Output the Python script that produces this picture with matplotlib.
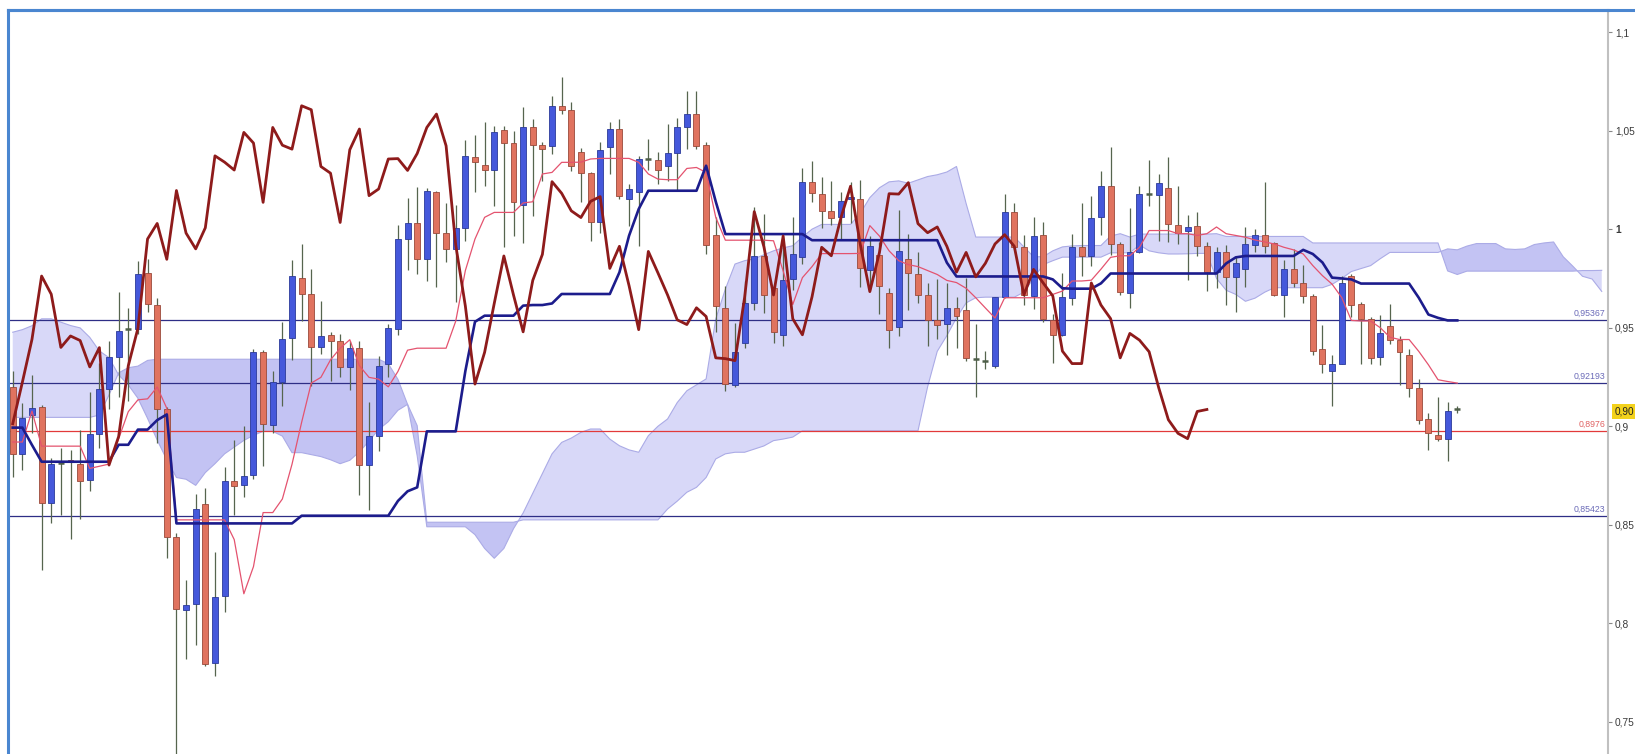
import numpy as np
import matplotlib
matplotlib.use("Agg")
import matplotlib.pyplot as plt
from matplotlib.lines import Line2D

# ---------------- data ----------------
opens = [0.920, 0.886, 0.9057, 0.910, 0.861, 0.881, 0.8828, 0.8808, 0.8727, 0.8961,
         0.9187, 0.935, 0.9488, 0.9492, 0.978, 0.9615, 0.9086, 0.844, 0.8068, 0.8098,
         0.8604, 0.7797, 0.8139, 0.8724, 0.8700, 0.8752, 0.9376, 0.9004, 0.9223, 0.9449,
         0.9754, 0.967, 0.940, 0.9464, 0.9431, 0.9301, 0.9399, 0.8803, 0.8948, 0.9317,
         0.9494, 0.995, 1.0029, 0.9847, 1.019, 0.9978, 0.990, 1.0007, 1.0365, 1.0325,
         1.030, 1.0503, 1.0437, 1.0122, 1.0516, 1.0426, 1.042, 1.0626, 1.0606, 1.0393,
         1.0284, 1.0034, 1.0415, 1.0508, 1.0153, 1.0187, 1.0356, 1.0352, 1.0318, 1.0384,
         1.0516, 1.0584, 1.0426, 0.997, 0.9598, 0.9211, 0.942, 0.9623, 0.9864, 0.970,
         0.9465, 0.9745, 0.9861, 1.0241, 1.0178, 1.0093, 1.0063, 1.0155, 1.0154, 0.9795,
         0.9868, 0.9675, 0.9506, 0.9847, 0.9773, 0.9666, 0.954, 0.952, 0.9601, 0.9588,
         0.9347, 0.9336, 0.9304, 0.9658, 1.0089, 0.9911, 0.9663, 0.9968, 0.9537, 0.9464,
         0.9649, 0.9908, 0.9865, 1.0063, 1.0218, 0.9925, 0.9678, 0.9882, 1.0172, 1.0172,
         1.021, 1.0023, 0.9989, 1.0015, 0.9913, 0.9782, 0.9882, 0.9758, 0.9796, 0.992,
         0.9968, 0.993, 0.9666, 0.9796, 0.9727, 0.9661, 0.939, 0.9281, 0.9318, 0.9761,
         0.962, 0.9546, 0.935, 0.9511, 0.9437, 0.9364, 0.9195, 0.9037, 0.8954, 0.8937,
         0.9085]
highs = [0.928, 0.912, 0.926, 0.911, 0.884, 0.889, 0.888, 0.898, 0.9175, 0.932,
         0.943, 0.968, 0.960, 0.984, 0.985, 0.965, 0.910, 0.846, 0.822, 0.8656,
         0.8685, 0.8364, 0.8795, 0.893, 0.900, 0.9392, 0.9386, 0.9278, 0.9529, 0.9843,
         0.9925, 0.9797, 0.9635, 0.9478, 0.947, 0.9431, 0.9431, 0.9121, 0.9356, 0.9517,
         1.0023, 1.0157, 1.0213, 1.021, 1.0196, 1.0131, 1.0121, 1.045, 1.048, 1.0545,
         1.0525, 1.0525, 1.0499, 1.0621, 1.0558, 1.0443, 1.0677, 1.077, 1.0643, 1.041,
         1.029, 1.0443, 1.0542, 1.0558, 1.0231, 1.0373, 1.0457, 1.0389, 1.0533, 1.0562,
         1.0702, 1.0702, 1.044, 1.006, 0.9711, 0.9525, 0.9737, 1.011, 1.0077, 0.972,
         0.9958, 1.006, 1.0311, 1.0348, 1.0263, 1.0246, 1.019, 1.024, 1.0247, 0.9965,
         0.9934, 0.970, 1.0097, 0.9973, 0.9882, 0.9727, 0.9749, 0.9727, 0.9657, 0.9752,
         0.952, 0.938, 0.9658, 1.018, 1.0132, 0.9968, 1.0063, 1.0034, 0.957, 0.9778,
         0.9977, 1.0132, 1.0166, 1.0296, 1.0417, 0.9934, 1.0106, 1.0218, 1.035, 1.028,
         1.0365, 1.0218, 1.0071, 1.0089, 0.9934, 0.9908, 0.992, 0.9865, 1.0011, 1.0003,
         1.0239, 0.9937, 0.9844, 0.990, 0.9816, 0.9672, 0.9516, 0.9364, 0.9761, 0.9775,
         0.9632, 0.9554, 0.9563, 0.962, 0.9459, 0.939, 0.924, 0.9068, 0.9149, 0.9123,
         0.9102]
lows = [0.874, 0.878, 0.8964, 0.827, 0.851, 0.855, 0.843, 0.853, 0.8673, 0.8888,
        0.909, 0.915, 0.913, 0.947, 0.958, 0.8917, 0.833, 0.720, 0.782, 0.789,
        0.7783, 0.7733, 0.806, 0.855, 0.864, 0.873, 0.8797, 0.8964, 0.9101, 0.9337,
        0.9533, 0.9203, 0.9366, 0.9229, 0.9248, 0.9184, 0.865, 0.8576, 0.8876, 0.9248,
        0.9464, 0.9792, 0.9772, 0.9739, 0.9705, 0.9831, 0.9631, 0.9941, 1.019, 1.022,
        1.0119, 0.9907, 0.9967, 0.993, 1.0067, 1.0246, 1.0381, 1.0584, 1.0296, 1.0139,
        0.9941, 0.9983, 1.0279, 1.0153, 1.0017, 0.9916, 1.0302, 1.0228, 1.0245, 1.0198,
        1.0406, 1.0406, 0.9874, 0.948, 0.9177, 0.9197, 0.9398, 0.959, 0.9576, 0.942,
        0.9406, 0.9689, 0.9822, 1.0136, 1.0005, 1.0022, 0.995, 1.003, 0.9709, 0.9692,
        0.9571, 0.9399, 0.9459, 0.9588, 0.9623, 0.9407, 0.9442, 0.9364, 0.9399, 0.933,
        0.915, 0.929, 0.9295, 0.9649, 0.9899, 0.9614, 0.9597, 0.9528, 0.9321, 0.946,
        0.9614, 0.9761, 0.9813, 0.9968, 0.987, 0.9666, 0.9602, 0.988, 1.0115, 0.9942,
        0.9934, 0.9925, 0.9744, 0.9865, 0.9684, 0.9701, 0.9615, 0.958, 0.9709, 0.9882,
        0.988, 0.9661, 0.9554, 0.9709, 0.9627, 0.9364, 0.927, 0.9105, 0.9318, 0.9554,
        0.9316, 0.9316, 0.9313, 0.9416, 0.9209, 0.9149, 0.9011, 0.8878, 0.8925, 0.8826,
        0.9068]
closes = [0.886, 0.904, 0.9094, 0.861, 0.881, 0.8815, 0.8818, 0.8724, 0.8961, 0.9187,
          0.935, 0.9483, 0.9492, 0.9775, 0.962, 0.9086, 0.844, 0.8073, 0.8094, 0.8578,
          0.7794, 0.8135, 0.8724, 0.8697, 0.8748, 0.9376, 0.9013, 0.9223, 0.9441, 0.9762,
          0.967, 0.940, 0.9458, 0.9435, 0.9301, 0.9399, 0.8803, 0.8948, 0.9307, 0.9497,
          0.995, 1.0029, 0.9847, 1.0196, 0.998, 0.990, 1.0007, 1.0372, 1.034, 1.030,
          1.0491, 1.0437, 1.0136, 1.0516, 1.0426, 1.0406, 1.0626, 1.0606, 1.0318, 1.0284,
          1.0034, 1.0403, 1.0508, 1.017, 1.0204, 1.0356, 1.0358, 1.0298, 1.0384, 1.0516,
          1.0584, 1.0423, 0.992, 0.961, 0.9214, 0.9375, 0.9623, 0.9864, 0.9666, 0.9479,
          0.974, 0.9872, 1.0241, 1.0182, 1.0093, 1.0059, 1.0141, 1.0165, 0.9801, 0.9913,
          0.9713, 0.949, 0.9887, 0.9778, 0.9666, 0.954, 0.9516, 0.9601, 0.9557, 0.9347,
          0.9343, 0.9333, 0.9654, 1.0089, 0.9911, 0.9666, 0.9965, 0.9545, 0.9464, 0.9657,
          0.9908, 0.9865, 1.0058, 1.0218, 0.9925, 0.9683, 0.9882, 1.018, 1.0178, 1.0236,
          1.0028, 0.9982, 1.0011, 0.9913, 0.9782, 0.9882, 0.9758, 0.9827, 0.9925, 0.9972,
          0.9913, 0.9666, 0.9796, 0.9727, 0.9661, 0.9381, 0.9318, 0.9318, 0.9727, 0.9615,
          0.9546, 0.9347, 0.9471, 0.9437, 0.9378, 0.9195, 0.9033, 0.8964, 0.8937, 0.9075,
          0.9085]

tenkan = [0.892, 0.892, 0.9077, 0.8899, 0.8899, 0.8899, 0.8899, 0.8899, 0.8786, 0.8797,
          0.8808, 0.8937, 0.9074, 0.9134, 0.9139, 0.9199, 0.9091, 0.8525, 0.8525, 0.8525,
          0.8525, 0.8525, 0.8525, 0.8425, 0.815, 0.8288, 0.8562, 0.8562, 0.8631, 0.8807,
          0.902, 0.9219, 0.9248, 0.9337, 0.9396, 0.9439, 0.9307, 0.9248, 0.9239, 0.920,
          0.9278, 0.9386, 0.9396, 0.9396, 0.9396, 0.9396, 0.9533, 0.979, 0.995, 1.006,
          1.0085, 1.0085, 1.0085, 1.0133, 1.0139, 1.028, 1.0288, 1.0339, 1.0339, 1.034,
          1.0356, 1.0359, 1.0359, 1.0359, 1.0359, 1.0339, 1.028, 1.0254, 1.0251, 1.0251,
          1.0308, 1.0313, 1.0288, 1.006, 0.9944, 0.9944, 0.9944, 0.9944, 0.9944, 0.9941,
          0.9788, 0.9618, 0.9754, 0.981, 0.9876, 0.9876, 0.9876, 0.9876, 0.9877, 1.0018,
          0.9965, 0.989, 0.984, 0.982, 0.981, 0.979, 0.977, 0.974, 0.9729, 0.970,
          0.9652, 0.960, 0.9549, 0.9652, 0.9652, 0.9652, 0.9652, 0.9652, 0.9669, 0.9686,
          0.9737, 0.9737, 0.9741, 0.9797, 0.9857, 0.9865, 0.9865, 0.9908, 0.9993, 0.9993,
          0.9993, 0.9977, 0.9977, 0.9968, 0.9977, 1.0011, 0.9977, 0.9968, 0.9959, 0.9945,
          0.9935, 0.9925, 0.9908, 0.9895, 0.9874, 0.9815, 0.9764, 0.9721, 0.9653, 0.9537,
          0.9534, 0.9534, 0.950, 0.9452, 0.944, 0.944, 0.938, 0.9312, 0.9236, 0.9227,
          0.9219]

kijun = [0.8993, 0.8993, 0.8905, 0.882, 0.882, 0.882, 0.882, 0.882, 0.882, 0.882,
         0.882, 0.8906, 0.8906, 0.8983, 0.8983, 0.9031, 0.906, 0.8507, 0.8507, 0.8507,
         0.8507, 0.8507, 0.8507, 0.8507, 0.8507, 0.8507, 0.8507, 0.8507, 0.8507, 0.8507,
         0.8546, 0.8546, 0.8546, 0.8546, 0.8546, 0.8546, 0.8546, 0.8546, 0.8546, 0.8546,
         0.8621, 0.867, 0.869, 0.8974, 0.8974, 0.8974, 0.8974, 0.928, 0.953, 0.9561,
         0.9561, 0.9561, 0.9561, 0.9612, 0.9615, 0.9615, 0.9623, 0.9671, 0.9671, 0.9671,
         0.9671, 0.9671, 0.9671, 0.9781, 0.9967, 1.0102, 1.0195, 1.0195, 1.0195, 1.0195,
         1.0195, 1.0195, 1.0322, 1.014, 0.9975, 0.9975, 0.9975, 0.9975, 0.9975, 0.9975,
         0.9975, 0.9975, 0.9975, 0.9944, 0.9944, 0.9944, 0.9944, 0.9944, 0.9944, 0.9944,
         0.9944, 0.9944, 0.9944, 0.9944, 0.9944, 0.9944, 0.9944, 0.983, 0.976, 0.976,
         0.976, 0.976, 0.976, 0.976, 0.976, 0.976, 0.976, 0.976, 0.9745, 0.970,
         0.9698, 0.9698, 0.9698, 0.9725, 0.9775, 0.9775, 0.9775, 0.9775, 0.9775, 0.9775,
         0.9775, 0.9775, 0.9775, 0.9775, 0.9775, 0.9775, 0.9826, 0.9857, 0.9864, 0.9864,
         0.9864, 0.9864, 0.9864, 0.9864, 0.9895, 0.9874, 0.9831, 0.9754, 0.975, 0.9745,
         0.9724, 0.9724, 0.9724, 0.9724, 0.9724, 0.9724, 0.9652, 0.9567, 0.955, 0.9537,
         0.9537]

span_a = [0.9477, 0.949, 0.951, 0.9545, 0.9545, 0.9528, 0.9511, 0.9499, 0.9451, 0.9382,
          0.9348, 0.926, 0.921, 0.9142, 0.904, 0.893, 0.883, 0.874, 0.8731, 0.870,
          0.8765, 0.881, 0.886, 0.8894, 0.8928, 0.8954, 0.8974, 0.8974, 0.895, 0.8866,
          0.8866, 0.8856, 0.8846, 0.883, 0.881, 0.8827, 0.887, 0.8925, 0.8984, 0.9023,
          0.9081, 0.9111, 0.885, 0.849, 0.849, 0.849, 0.849, 0.849, 0.845, 0.838,
          0.833, 0.838, 0.848, 0.856, 0.866, 0.876, 0.886, 0.8918, 0.894, 0.8969,
          0.8986, 0.8986, 0.8935, 0.8901, 0.888, 0.8868, 0.8952, 0.900, 0.9037, 0.912,
          0.918, 0.921, 0.924, 0.9544, 0.9696, 0.9823, 0.984, 0.985, 0.987, 0.989,
          0.9905, 0.9916, 0.996, 1.000, 1.0024, 1.0024, 1.0024, 1.0024, 1.008, 1.016,
          1.021, 1.024, 1.0245, 1.0233, 1.025, 1.0267, 1.0276, 1.029, 1.0318, 1.013,
          0.996, 0.996, 0.996, 0.996, 0.996, 0.991, 0.986, 0.986, 0.989, 0.991,
          0.9915, 0.9917, 0.9917, 0.9917, 0.9965, 0.9977, 0.996, 0.9975, 0.9975, 0.9975,
          0.9975, 0.9975, 0.9975, 0.9975, 0.9975, 0.9977, 0.9963, 0.9963, 0.9963, 0.9963,
          0.9963, 0.9963, 0.9963, 0.9963, 0.9963, 0.993, 0.993, 0.993, 0.993, 0.993,
          0.993, 0.993, 0.993, 0.993, 0.993, 0.993, 0.993, 0.993, 0.993, 0.9788,
          0.977, 0.9787, 0.9787, 0.9787, 0.9787, 0.9787, 0.9787, 0.9787, 0.9787, 0.9787,
          0.9787, 0.9787, 0.9787, 0.979, 0.979, 0.9791]

span_b = [0.9045, 0.9045, 0.9045, 0.9045, 0.9045, 0.9045, 0.9045, 0.9045, 0.9045, 0.9057,
          0.9159, 0.9271, 0.9297, 0.9305, 0.9334, 0.934, 0.934, 0.934, 0.934, 0.934,
          0.934, 0.934, 0.934, 0.934, 0.934, 0.934, 0.934, 0.934, 0.934, 0.934,
          0.934, 0.934, 0.934, 0.934, 0.934, 0.934, 0.934, 0.934, 0.934, 0.9317,
          0.9238, 0.9111, 0.9003, 0.8513, 0.8513, 0.8513, 0.8513, 0.8513, 0.8513, 0.8513,
          0.8513, 0.8513, 0.8513, 0.8525, 0.8525, 0.8525, 0.8525, 0.8525, 0.8525, 0.8525,
          0.8525, 0.8525, 0.8525, 0.8525, 0.8525, 0.8525, 0.8525, 0.8525, 0.858, 0.862,
          0.8665, 0.869, 0.874, 0.8834, 0.886, 0.8868, 0.8868, 0.8884, 0.890, 0.8927,
          0.8935, 0.8945, 0.8977, 0.8977, 0.8977, 0.8977, 0.8977, 0.8977, 0.8977, 0.8977,
          0.8977, 0.8977, 0.8977, 0.8977, 0.8977, 0.920, 0.938, 0.946, 0.955, 0.9626,
          0.9652, 0.9655, 0.9655, 0.9655, 0.9655, 0.968, 0.975, 0.982, 0.984, 0.9858,
          0.9858, 0.9858, 0.9858, 0.9858, 0.988, 0.988, 0.988, 0.992, 0.989, 0.988,
          0.9874, 0.9874, 0.9875, 0.9877, 0.9877, 0.975, 0.969, 0.9669, 0.9634, 0.965,
          0.968, 0.9703, 0.9703, 0.9703, 0.9703, 0.9703, 0.9703, 0.972, 0.975, 0.9785,
          0.980, 0.9815, 0.985, 0.9882, 0.9882, 0.9882, 0.9882, 0.9882, 0.9882, 0.990,
          0.9895, 0.9914, 0.9927, 0.9927, 0.9927, 0.990, 0.9897, 0.990, 0.9922, 0.993,
          0.9935, 0.986, 0.9812, 0.9761, 0.9747, 0.9684]

chikou_shift = 26
level_values = [0.95367, 0.92193, 0.8976, 0.85423]
level_labels = ["0,95367", "0,92193", "0,8976", "0,85423"]
last_price = 0.9077
last_price_label = "0,90"
y_ticks = [0.75, 0.8, 0.85, 0.9, 0.95, 1.0, 1.05, 1.1]
y_tick_labels = ["0,75", "0,8", "0,85", "0,9", "0,95", "1", "1,05", "1,1"]

assert len(opens) == len(highs) == len(lows) == len(closes) == len(tenkan) == len(kijun) == 151
assert len(span_a) == len(span_b) == 166

# ---------------- drawing ----------------
plt.rcParams['font.family'] = ['Liberation Sans', 'DejaVu Sans']
W, H = 1635, 754
fig = plt.figure(figsize=(W / 100, H / 100), dpi=100)
fig.patch.set_facecolor('white')
ax = fig.add_axes([8 / W, 0.0, 1600 / W, 744 / H])

o = np.array(opens); h = np.array(highs); l = np.array(lows); c = np.array(closes)
x = np.arange(len(o))
xc = np.arange(len(span_a))
a = np.array(span_a); b = np.array(span_b)

# cloud
ax.fill_between(xc, a, b, where=a >= b, interpolate=True, color='#d8d8f8', lw=0, zorder=1)
ax.fill_between(xc, a, b, where=a < b, interpolate=True, color='#c3c3f3', lw=0, zorder=1)
ax.plot(xc, a, color='#ababe6', lw=0.8, zorder=1.5)
ax.plot(xc, b, color='#ababe6', lw=0.8, zorder=1.5)

# horizontal levels
lvl_colors = ['#2e2e86', '#2e2e86', '#e23a3a', '#2e2e86']
txt_colors = ['#6b6bb8', '#6b6bb8', '#e06262', '#6b6bb8']
for v, lab, lc, tc in zip(level_values, level_labels, lvl_colors, txt_colors):
    ax.axhline(v, color=lc, lw=0.9, zorder=2)
    ax.text(0.9985, v + 0.0012, lab, transform=ax.get_yaxis_transform(),
            ha='right', va='bottom', fontsize=6.3, color=tc, zorder=6)

# candles
up = c >= o
ax.vlines(x, l, h, color='#56654e', lw=0.9, zorder=3)
body_lo = np.minimum(o, c)
body_h = np.abs(c - o)
doji = body_h < 0.0009
w = 0.62
ax.bar(x[up & ~doji], body_h[up & ~doji], bottom=body_lo[up & ~doji], width=w,
       color='#4558db', edgecolor='#2b3a9a', lw=0.6, zorder=3.5)
ax.bar(x[~up & ~doji], body_h[~up & ~doji], bottom=body_lo[~up & ~doji], width=w,
       color='#e0735f', edgecolor='#9a4a3b', lw=0.6, zorder=3.5)
ax.hlines(c[doji], x[doji] - w / 2, x[doji] + w / 2, color='#4e5e48', lw=1.8, zorder=3.6)

# ichimoku lines
ax.plot(x, tenkan, color='#e4536f', lw=0.9, zorder=4)
ax.plot(x, kijun, color='#1c1c8c', lw=1.9, zorder=4.5)
ax.plot(x[:-chikou_shift], c[chikou_shift:], color='#8e1b1b', lw=2.0, zorder=5)

# axes styling
ax.set_xlim(-0.49, 165.65)
ax.set_ylim(0.7337, 1.1112)
ax.set_xticks([])
ax.yaxis.tick_right()
ax.set_yticks(y_ticks)
ax.set_yticklabels(y_tick_labels)
for t in ax.get_yticklabels():
    t.set_fontsize(7.3)
    t.set_color('#3a3a3a')
    if t.get_text() == '1':
        t.set_fontweight('bold')
ax.tick_params(axis='y', direction='out', length=3, width=0.8, color='#888888', pad=2)
ax.spines['bottom'].set_visible(False)
ax.spines['right'].set_color('#c0c0c0')
ax.spines['right'].set_linewidth(1.5)
ax.spines['left'].set_color('#4a86d0')
ax.spines['left'].set_linewidth(2.2)
ax.spines['top'].set_color('#4a86d0')
ax.spines['top'].set_linewidth(2.2)

# last price marker (yellow box)
ax.text(1.0042, last_price, last_price_label, transform=ax.get_yaxis_transform(),
        ha='left', va='center', fontsize=7.2, color='#222222',
        bbox=dict(boxstyle='square,pad=0.25', fc='#f3d21c', ec='none'), clip_on=False)

# top frame line across the full width
fig.add_artist(Line2D([8 / W, 1.0], [744 / H, 744 / H], color='#4a86d0', lw=2.2))

fig.savefig('out.png', dpi=100, facecolor='white')
